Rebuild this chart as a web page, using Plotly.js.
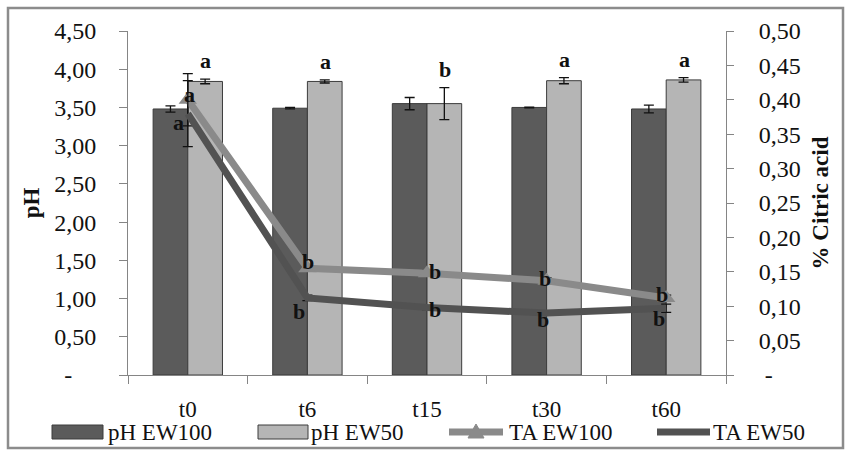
<!DOCTYPE html>
<html>
<head>
<meta charset="utf-8">
<script src="https://cdn.plot.ly/plotly-3.0.1.min.js"></script>
<style>html,body{margin:0;padding:0;background:#fff;}#chart{width:850px;height:451px;}</style>
</head>
<body>
<div id="chart"></div>
<script>
// ---- data ----
const categories = ['t0', 't6', 't15', 't30', 't60'];
const phEW100 = [3.48, 3.49, 3.55, 3.50, 3.48];
const phEW100Err = [0.04, 0.01, 0.08, 0.005, 0.05];
const phEW50 = [3.84, 3.84, 3.55, 3.85, 3.86];
const phEW50Err = [0.03, 0.02, 0.21, 0.04, 0.03];
const taEW100 = [0.40, 0.155, 0.148, 0.137, 0.112];
const taEW100Err = [0.038, 0.004, 0.004, 0.004, 0.004];
const taEW50 = [0.38, 0.112, 0.098, 0.090, 0.097];
const taEW50Err = [0.048, 0.004, 0.003, 0.003, 0.006];
const phLetters = ['a', 'a', 'b', 'a', 'a'];
const taEW100Letters = ['a', 'b', 'b', 'b', 'b'];
const taEW50Letters = ['a', 'b', 'b', 'b', 'b'];
const phTickVals = [0, 0.5, 1, 1.5, 2, 2.5, 3, 3.5, 4, 4.5];
const phTickText = ['-\u00a0\u00a0\u00a0\u00a0', '0,50', '1,00', '1,50', '2,00', '2,50', '3,00', '3,50', '4,00', '4,50'];
const taTickVals = [0, 0.05, 0.1, 0.15, 0.2, 0.25, 0.3, 0.35, 0.4, 0.45, 0.5];
const taTickText = ['\u00a0-', '0,05', '0,10', '0,15', '0,20', '0,25', '0,30', '0,35', '0,40', '0,45', '0,50'];
const seriesNames = ['pH EW100', 'pH EW50', 'TA EW100', 'TA EW50'];

// ---- styles ----
const FONT = '"Liberation Serif"';
const cDarkBar = '#5b5b5b', cLightBar = '#b5b5b5', cBarLine = '#3c3c3c';
const cTA100 = '#8a8a8a', cTA50 = '#525252';
const axisCol = '#858585';

// plot area geometry (px) for paper conversions
const L = 128, R = 726, T = 31, B = 375;
const px = x => (x - L) / (R - L);
const py = y => (B - y) / (B - T);

const errStyle = {type: 'data', color: '#111', thickness: 1.3, width: 5};

const traces = [
  {type: 'bar', name: seriesNames[0], x: categories, y: phEW100,
   marker: {color: cDarkBar, line: {color: cBarLine, width: 1}},
   error_y: Object.assign({array: phEW100Err}, errStyle), yaxis: 'y', showlegend: false},
  {type: 'bar', name: seriesNames[1], x: categories, y: phEW50,
   marker: {color: cLightBar, line: {color: cBarLine, width: 1}},
   error_y: Object.assign({array: phEW50Err}, errStyle), yaxis: 'y', showlegend: false},
  {type: 'scatter', mode: 'lines+markers', name: seriesNames[2], x: categories, y: taEW100,
   line: {color: cTA100, width: 7}, marker: {symbol: 'triangle-up', size: 16, color: cTA100},
   error_y: Object.assign({array: taEW100Err}, errStyle), yaxis: 'y2', showlegend: false},
  {type: 'scatter', mode: 'lines', name: seriesNames[3], x: categories, y: taEW50,
   line: {color: cTA50, width: 7},
   error_y: Object.assign({array: taEW50Err}, errStyle), yaxis: 'y2', showlegend: false}
];

const annotations = [];
const letterFont = {family: FONT, size: 22, color: '#111'};
// bar letters above pH EW50 bars
categories.forEach((c, i) => {
  annotations.push({x: i, y: phEW50[i] + phEW50Err[i], xref: 'x', yref: 'y', text: '<b>' + phLetters[i] + '</b>',
    showarrow: false, xshift: 18, yanchor: 'bottom', yshift: 4, font: letterFont});
});
const shift100 = [[2, 5], [1, 7], [8, 2], [-2, 2], [-4, 3]];
const shift50 = [[-9, -9], [-8, -14], [8, -2], [-4, -6], [-7, -10]];
categories.forEach((c, i) => {
  annotations.push({x: i, y: taEW100[i], xref: 'x', yref: 'y2', text: '<b>' + taEW100Letters[i] + '</b>',
    showarrow: false, xshift: shift100[i][0], yshift: shift100[i][1], font: letterFont});
  annotations.push({x: i, y: taEW50[i], xref: 'x', yref: 'y2', text: '<b>' + taEW50Letters[i] + '</b>',
    showarrow: false, xshift: shift50[i][0], yshift: shift50[i][1], font: letterFont});
});

// custom legend
const legY = 432;
const legFont = {family: FONT, size: 23, color: '#111'};
const legTextX = [106, 309, 507, 711];
seriesNames.forEach((n, i) => {
  annotations.push({x: px(legTextX[i]), y: py(legY), xref: 'paper', yref: 'paper', text: n,
    showarrow: false, xanchor: 'left', yanchor: 'middle', font: legFont});
});

const shapes = [
  // outer border
  {type: 'rect', xref: 'paper', yref: 'paper', x0: px(8), x1: px(843), y0: py(448), y1: py(8),
   line: {color: '#8c8c8c', width: 2.5}, fillcolor: 'rgba(0,0,0,0)', layer: 'below'},
  // legend swatches
  {type: 'rect', xref: 'paper', yref: 'paper', x0: px(52), x1: px(103), y0: py(439), y1: py(425),
   fillcolor: cDarkBar, line: {color: cBarLine, width: 1}},
  {type: 'rect', xref: 'paper', yref: 'paper', x0: px(258), x1: px(308), y0: py(439), y1: py(425),
   fillcolor: cLightBar, line: {color: cBarLine, width: 1}},
  {type: 'line', xref: 'paper', yref: 'paper', x0: px(449), x1: px(503), y0: py(legY), y1: py(legY),
   line: {color: cTA100, width: 7}},
  {type: 'path', xref: 'paper', yref: 'paper',
   path: 'M ' + px(468) + ' ' + py(438) + ' L ' + px(484) + ' ' + py(438) + ' L ' + px(476) + ' ' + py(424) + ' Z',
   fillcolor: cTA100, line: {color: cTA100, width: 1}},
  {type: 'line', xref: 'paper', yref: 'paper', x0: px(657), x1: px(710), y0: py(legY), y1: py(legY),
   line: {color: cTA50, width: 7}}
];

const layout = {
  width: 850, height: 451,
  margin: {l: L, r: 850 - R, t: T, b: 451 - B, pad: 0},
  paper_bgcolor: '#fff', plot_bgcolor: '#fff',
  font: {family: FONT, size: 22, color: '#111'},
  barmode: 'group', bargap: 0.42, bargroupgap: 0,
  showlegend: false,
  xaxis: {type: 'category', tickson: 'boundaries', ticks: 'outside', ticklen: 8, tickcolor: axisCol,
    showline: true, linecolor: axisCol, linewidth: 1, showgrid: false, zeroline: false,
    tickfont: {family: FONT, size: 23, color: '#111'}, ticklabelstandoff: 13, fixedrange: true},
  yaxis: {range: [0, 4.5], tickmode: 'array', tickvals: phTickVals, ticktext: phTickText,
    ticks: 'outside', ticklen: 8, tickcolor: axisCol, showline: true, linecolor: axisCol, linewidth: 1,
    showgrid: false, zeroline: false, tickfont: {family: FONT, size: 24, color: '#111'},
    ticklabelstandoff: 18,
    title: {text: '<b>pH</b>', font: {family: FONT, size: 23, color: '#111'}, standoff: 8}},
  yaxis2: {range: [0, 0.5], overlaying: 'y', side: 'right', tickmode: 'array', tickvals: taTickVals, ticktext: taTickText,
    ticks: 'outside', ticklen: 7, tickcolor: axisCol, showline: true, linecolor: axisCol, linewidth: 1,
    showgrid: false, zeroline: false, tickfont: {family: FONT, size: 24, color: '#111'},
    ticklabelstandoff: 20,
    title: {text: '<b>% Citric acid</b>', font: {family: FONT, size: 23, color: '#111'}, standoff: 12}},
  annotations: annotations,
  shapes: shapes
};

Plotly.newPlot('chart', traces, layout, {displayModeBar: false, staticPlot: true});
</script>
</body>
</html>
